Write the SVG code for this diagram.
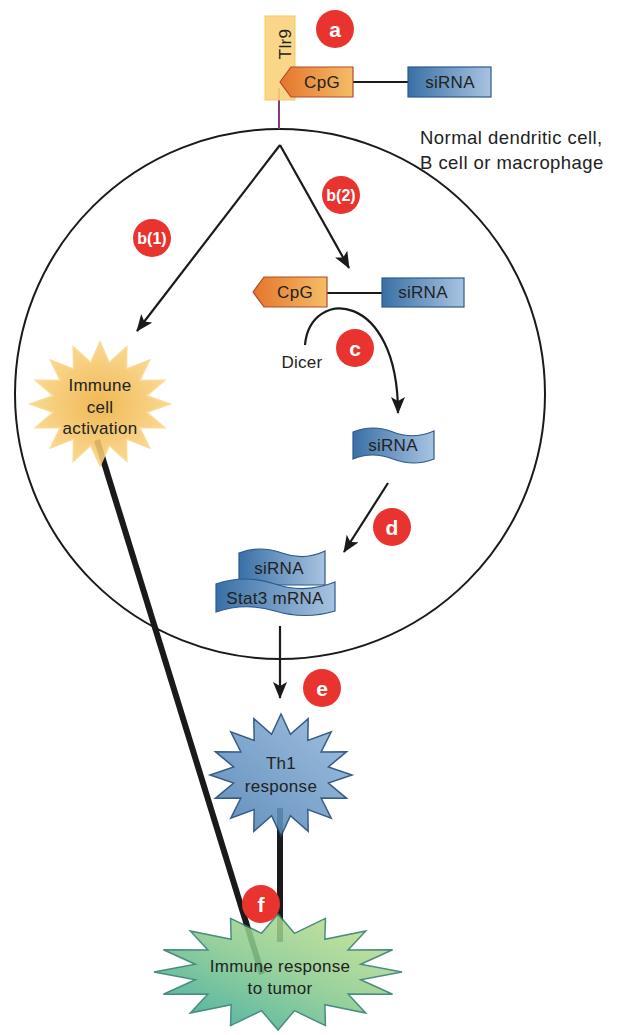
<svg xmlns="http://www.w3.org/2000/svg" xmlns:xlink="http://www.w3.org/1999/xlink" width="617" height="1035" viewBox="0 0 617 1035">
<defs>
<style>
text{font-family:"Liberation Sans",Arial,sans-serif;fill:#222;}
.lbl{font-size:17px;text-anchor:middle;letter-spacing:0.3px;}
.big{font-size:18.5px;letter-spacing:0.45px;}
.badge circle{fill:#e8332f;}
.badge text{fill:#fff;font-weight:bold;text-anchor:middle;font-size:21px;letter-spacing:0;}
.badge text.sm{font-size:16px;}
.thin{stroke:#1a1a1a;stroke-width:2.2;fill:none;}
.thick{stroke:#1a1a1a;stroke-width:6;fill:none;}
.org{fill:url(#gOrange);stroke:#b04a2c;stroke-width:1.2;}
.blu{fill:url(#gBlue);stroke:#2b5a8c;stroke-width:1.2;}
</style>
<linearGradient id="gOrange" x1="0" y1="0" x2="1" y2="0"><stop offset="0" stop-color="#e4752c"/><stop offset="1" stop-color="#f5bd66"/></linearGradient>
<linearGradient id="gBlue" x1="0" y1="0" x2="1" y2="0"><stop offset="0" stop-color="#3a70a6"/><stop offset="1" stop-color="#a9c3e1"/></linearGradient>
<radialGradient id="gYellow" cx="0.5" cy="0.5" r="0.6"><stop offset="0" stop-color="#eeb03e"/><stop offset="1" stop-color="#fcdb92"/></radialGradient>
<linearGradient id="gTh1" x1="1" y1="0" x2="0" y2="1"><stop offset="0" stop-color="#95b8dc"/><stop offset="1" stop-color="#4a7fb2"/></linearGradient>
<linearGradient id="gGreen" x1="1" y1="0" x2="0" y2="1"><stop offset="0" stop-color="#cfe58e"/><stop offset="0.5" stop-color="#86c98e"/><stop offset="1" stop-color="#23a095"/></linearGradient>
<marker id="ah" markerUnits="userSpaceOnUse" markerWidth="17" markerHeight="14" viewBox="0 0 17 14" refX="16" refY="7" orient="auto"><path d="M0,0 L17,7 L0,14 L4,7 z" fill="#1a1a1a"/></marker>
<polygon id="star" vector-effect="non-scaling-stroke" points="0,-1 0.1327,-0.6669 0.3827,-0.9239 0.3778,-0.5654 0.7071,-0.7071 0.5654,-0.3778 0.9239,-0.3827 0.6669,-0.1327 1,0 0.6669,0.1327 0.9239,0.3827 0.5654,0.3778 0.7071,0.7071 0.3778,0.5654 0.3827,0.9239 0.1327,0.6669 0,1 -0.1327,0.6669 -0.3827,0.9239 -0.3778,0.5654 -0.7071,0.7071 -0.5654,0.3778 -0.9239,0.3827 -0.6669,0.1327 -1,0 -0.6669,-0.1327 -0.9239,-0.3827 -0.5654,-0.3778 -0.7071,-0.7071 -0.3778,-0.5654 -0.3827,-0.9239 -0.1327,-0.6669"/>
</defs>
<rect width="617" height="1035" fill="#fff"/>

<g id="cell">
<circle cx="280" cy="394" r="265" fill="none" stroke="#1a1a1a" stroke-width="2"/>
<text class="big" x="420" y="144">Normal dendritic cell,</text>
<text class="big" x="420" y="169">B cell or macrophage</text>
</g>

<g id="connectors">
<line x1="279" y1="88" x2="279" y2="129" stroke="#8a3a80" stroke-width="2"/>
<line x1="353" y1="82" x2="408" y2="82" class="thin"/>
<line x1="327" y1="293" x2="382" y2="293" class="thin"/>
<path d="M280,145 L137,331" class="thin" marker-end="url(#ah)"/>
<path d="M280,145 L349,268" class="thin" marker-end="url(#ah)"/>
<path d="M305,345 C310,287 398,290 398,413" class="thin" marker-end="url(#ah)"/>
<path d="M388,483 L344,552" class="thin" marker-end="url(#ah)"/>
<path d="M280,626 L280,698" class="thin" marker-end="url(#ah)"/>
<path d="M97,440 L262,974" class="thick"/>
<path d="M280,808 L280,942" class="thick"/>
</g>

<g id="tlr9">
<rect x="265" y="16" width="30" height="84" fill="#f9d27c" stroke="#f7c455" stroke-width="1" opacity="0.9"/>
<text transform="translate(291,44) rotate(-90)" class="lbl" font-size="15">Tlr9</text>
</g>

<g id="cpg-top">
<polygon class="org" points="280,82 291,67 353,67 353,97 291,97"/>
<text class="lbl" x="322" y="88">CpG</text>
</g>
<g id="sirna-top">
<rect class="blu" x="408" y="67" width="83" height="30"/>
<text class="lbl" x="450" y="88">siRNA</text>
</g>

<g id="cpg-inner">
<polygon class="org" points="253,292 264,277 327,277 327,307 264,307"/>
<text class="lbl" x="295" y="298">CpG</text>
</g>
<g id="sirna-inner">
<rect class="blu" x="382" y="278" width="82" height="29"/>
<text class="lbl" x="423" y="298">siRNA</text>
</g>

<g id="dicer">
<text class="lbl" font-size="16" x="302" y="368">Dicer</text>
</g>

<g id="sirna-cut">
<path class="blu" d="M353,432 Q373,424 393,432 T434,431 L434,459 Q414,467 393,459 T353,459 Z"/>
<text class="lbl" x="393" y="451">siRNA</text>
</g>

<g id="duplex">
<path class="blu" d="M239,553 Q260,545 282,553 T325,551 L325,585 L239,585 Z"/>
<text class="lbl" x="279" y="574">siRNA</text>
<path class="blu" d="M216,584 Q245,574 275,584 T335,582 L335,611 Q305,620 275,611 T216,612 Z"/>
<text class="lbl" x="275" y="604">Stat3 mRNA</text>
</g>

<g id="activation">
<use href="#star" transform="translate(100,404) scale(70,62)" fill="url(#gYellow)" stroke="#f9d685" stroke-width="1.5" opacity="0.88"/>
<text class="lbl" x="100" y="391">Immune</text>
<text class="lbl" x="100" y="413">cell</text>
<text class="lbl" x="100" y="434">activation</text>
</g>

<g id="th1">
<use href="#star" transform="translate(281,775) scale(71,61)" fill="url(#gTh1)" stroke="#1d4577" stroke-width="1.5" opacity="0.88"/>
<text class="lbl" x="281" y="769">Th1</text>
<text class="lbl" x="281" y="792">response</text>
</g>

<g id="tumor">
<use href="#star" transform="translate(278,972) scale(124,58)" fill="url(#gGreen)" stroke="#2c7a6c" stroke-width="1.5" opacity="0.86"/>
<text class="lbl" x="280" y="972">Immune response</text>
<text class="lbl" x="280" y="994">to tumor</text>
</g>

<g id="badges">
<g class="badge"><circle cx="335" cy="29" r="19"/><text x="335" y="37">a</text></g>
<g class="badge"><circle cx="152" cy="238" r="19"/><text class="sm" x="152" y="244">b(1)</text></g>
<g class="badge"><circle cx="341" cy="195" r="19"/><text class="sm" x="341" y="201">b(2)</text></g>
<g class="badge"><circle cx="355" cy="348" r="19"/><text x="355" y="356">c</text></g>
<g class="badge"><circle cx="392" cy="527" r="19"/><text x="392" y="535">d</text></g>
<g class="badge"><circle cx="322" cy="688" r="19"/><text x="322" y="696">e</text></g>
<g class="badge"><circle cx="261" cy="904" r="19"/><text x="261" y="912">f</text></g>
</g>
</svg>
